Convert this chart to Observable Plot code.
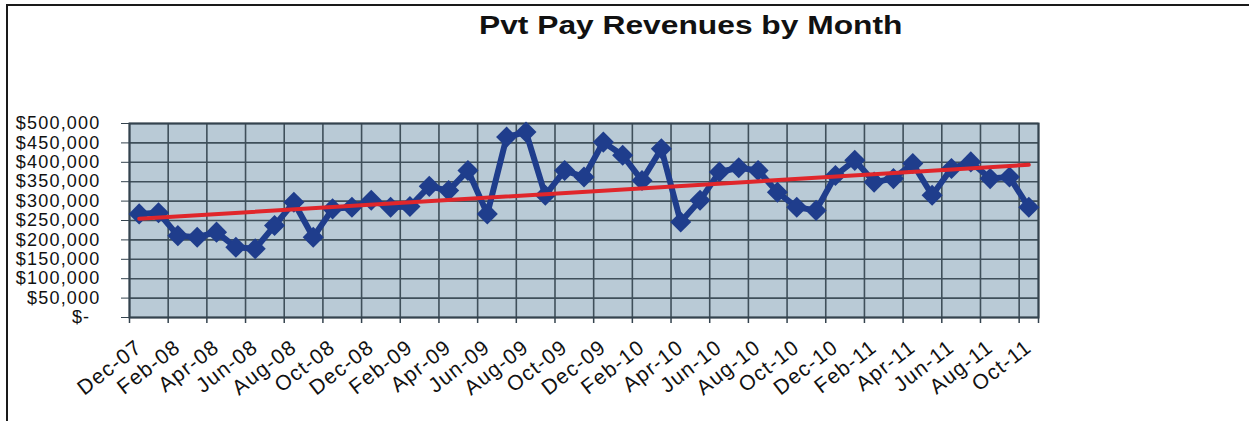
<!DOCTYPE html>
<html>
<head>
<meta charset="utf-8">
<script src="https://cdn.jsdelivr.net/npm/d3@7"></script>
<script src="https://cdn.jsdelivr.net/npm/@observablehq/plot@0.6"></script>
<style>
  body { margin: 0; background: white; font-family: "Liberation Sans", Arial, sans-serif; }
  #page { position: relative; width: 1249px; height: 421px; overflow: hidden; }
  #border { position: absolute; left: 6px; top: 4px; right: 0; bottom: 0; border-top: 2px solid #1a1a1a; border-left: 2px solid #1a1a1a; }
  #title { position: absolute; left: 441px; top: 13px; width: 500px; text-align: center; font-size: 25px; line-height: 25px; font-weight: bold; color: #111; }
  #title span { display: inline-block; transform: scaleX(1.27); }
  #chart { position: absolute; left: 0; top: 60px; }
</style>
</head>
<body>
<div id="page">
  <div id="border"></div>
  <div id="title"><span>Pvt Pay Revenues by Month</span></div>
  <div id="chart"></div>
</div>
<script>
// one entry per month, Dec-07 .. Oct-11
const months = [
  "Dec-07", "Jan-08", "Feb-08", "Mar-08", "Apr-08", "May-08", "Jun-08", "Jul-08",
  "Aug-08", "Sep-08", "Oct-08", "Nov-08", "Dec-08", "Jan-09", "Feb-09", "Mar-09",
  "Apr-09", "May-09", "Jun-09", "Jul-09", "Aug-09", "Sep-09", "Oct-09", "Nov-09",
  "Dec-09", "Jan-10", "Feb-10", "Mar-10", "Apr-10", "May-10", "Jun-10", "Jul-10",
  "Aug-10", "Sep-10", "Oct-10", "Nov-10", "Dec-10", "Jan-11", "Feb-11", "Mar-11",
  "Apr-11", "May-11", "Jun-11", "Jul-11", "Aug-11", "Sep-11", "Oct-11"
];
const revenue = [
  267000, 270000, 211000, 207000, 220000, 181000, 177000, 237000,
  297000, 207000, 280000, 284000, 302000, 284000, 286000, 338000,
  327000, 379000, 267000, 465000, 478000, 315000, 379000, 362000,
  452000, 418000, 353000, 435000, 246000, 302000, 375000, 386000,
  379000, 323000, 284000, 276000, 366000, 405000, 349000, 358000,
  397000, 315000, 384000, 401000, 358000, 362000, 284000
];
const yTicks = [0, 50000, 100000, 150000, 200000, 250000, 300000, 350000, 400000, 450000, 500000];

const data = months.map((m, i) => ({i, month: m, value: revenue[i]}));
const n = months.length;
// category boundaries every two months (gridlines), plus the right edge
const bounds = d3.range(-0.5, n, 2).concat([n - 0.5]);
const labelIdx = d3.range(0, n, 2);

const money = v => v === 0 ? "$-\u2002" : "$" + d3.format(",")(v);

let chart = Plot.plot({
  width: 1249,
  height: 361,
  marginLeft: 129,
  marginRight: 211,
  marginTop: 63,
  marginBottom: 104,
  style: {background: "none", fontFamily: "Liberation Sans, Arial, sans-serif", color: "#111"},
  x: {type: "linear", domain: [-0.5, n - 0.5]},
  y: {domain: [0, 500000]},
  marks: [
    Plot.frame({fill: "#b9cad6", stroke: null}),
    Plot.gridX(bounds, {stroke: "#3f4f5a", strokeOpacity: 1, strokeWidth: 1.6}),
    Plot.gridY(yTicks, {stroke: "#3f4f5a", strokeOpacity: 1, strokeWidth: 1.6}),
    Plot.frame({stroke: "#34434e", strokeWidth: 2}),
    Plot.axisX(bounds, {tickSize: 6, tickFormat: () => "", label: null, stroke: "#34434e", strokeWidth: 1.5}),
    Plot.axisX(labelIdx, {
      tickSize: 0, tickPadding: 27, tickRotate: -38,
      tickFormat: i => months[i], label: null,
      fontSize: 21, fill: "#111", className: "xlab"
    }),
    Plot.axisY(yTicks, {
      tickSize: 8, tickPadding: 21, tickFormat: money, label: null,
      stroke: "#34434e", fontSize: 18, fill: "#111", className: "ylab"
    }),
    Plot.line(data, {x: "i", y: "value", stroke: "#1f3d8c", strokeWidth: 6, strokeLinejoin: "miter"}),
    Plot.dot(data, {x: "i", y: "value", symbol: "diamond2", r: 9.5, fill: "#1f3d8c", stroke: null}),
    Plot.linearRegressionY(data, {x: "i", y: "value", stroke: "#e0262b", strokeWidth: 4, ci: 0})
  ]
});
d3.select("#chart").append(() => chart);
d3.selectAll("#chart text").style("letter-spacing", "1.2px");
</script>
</body>
</html>
